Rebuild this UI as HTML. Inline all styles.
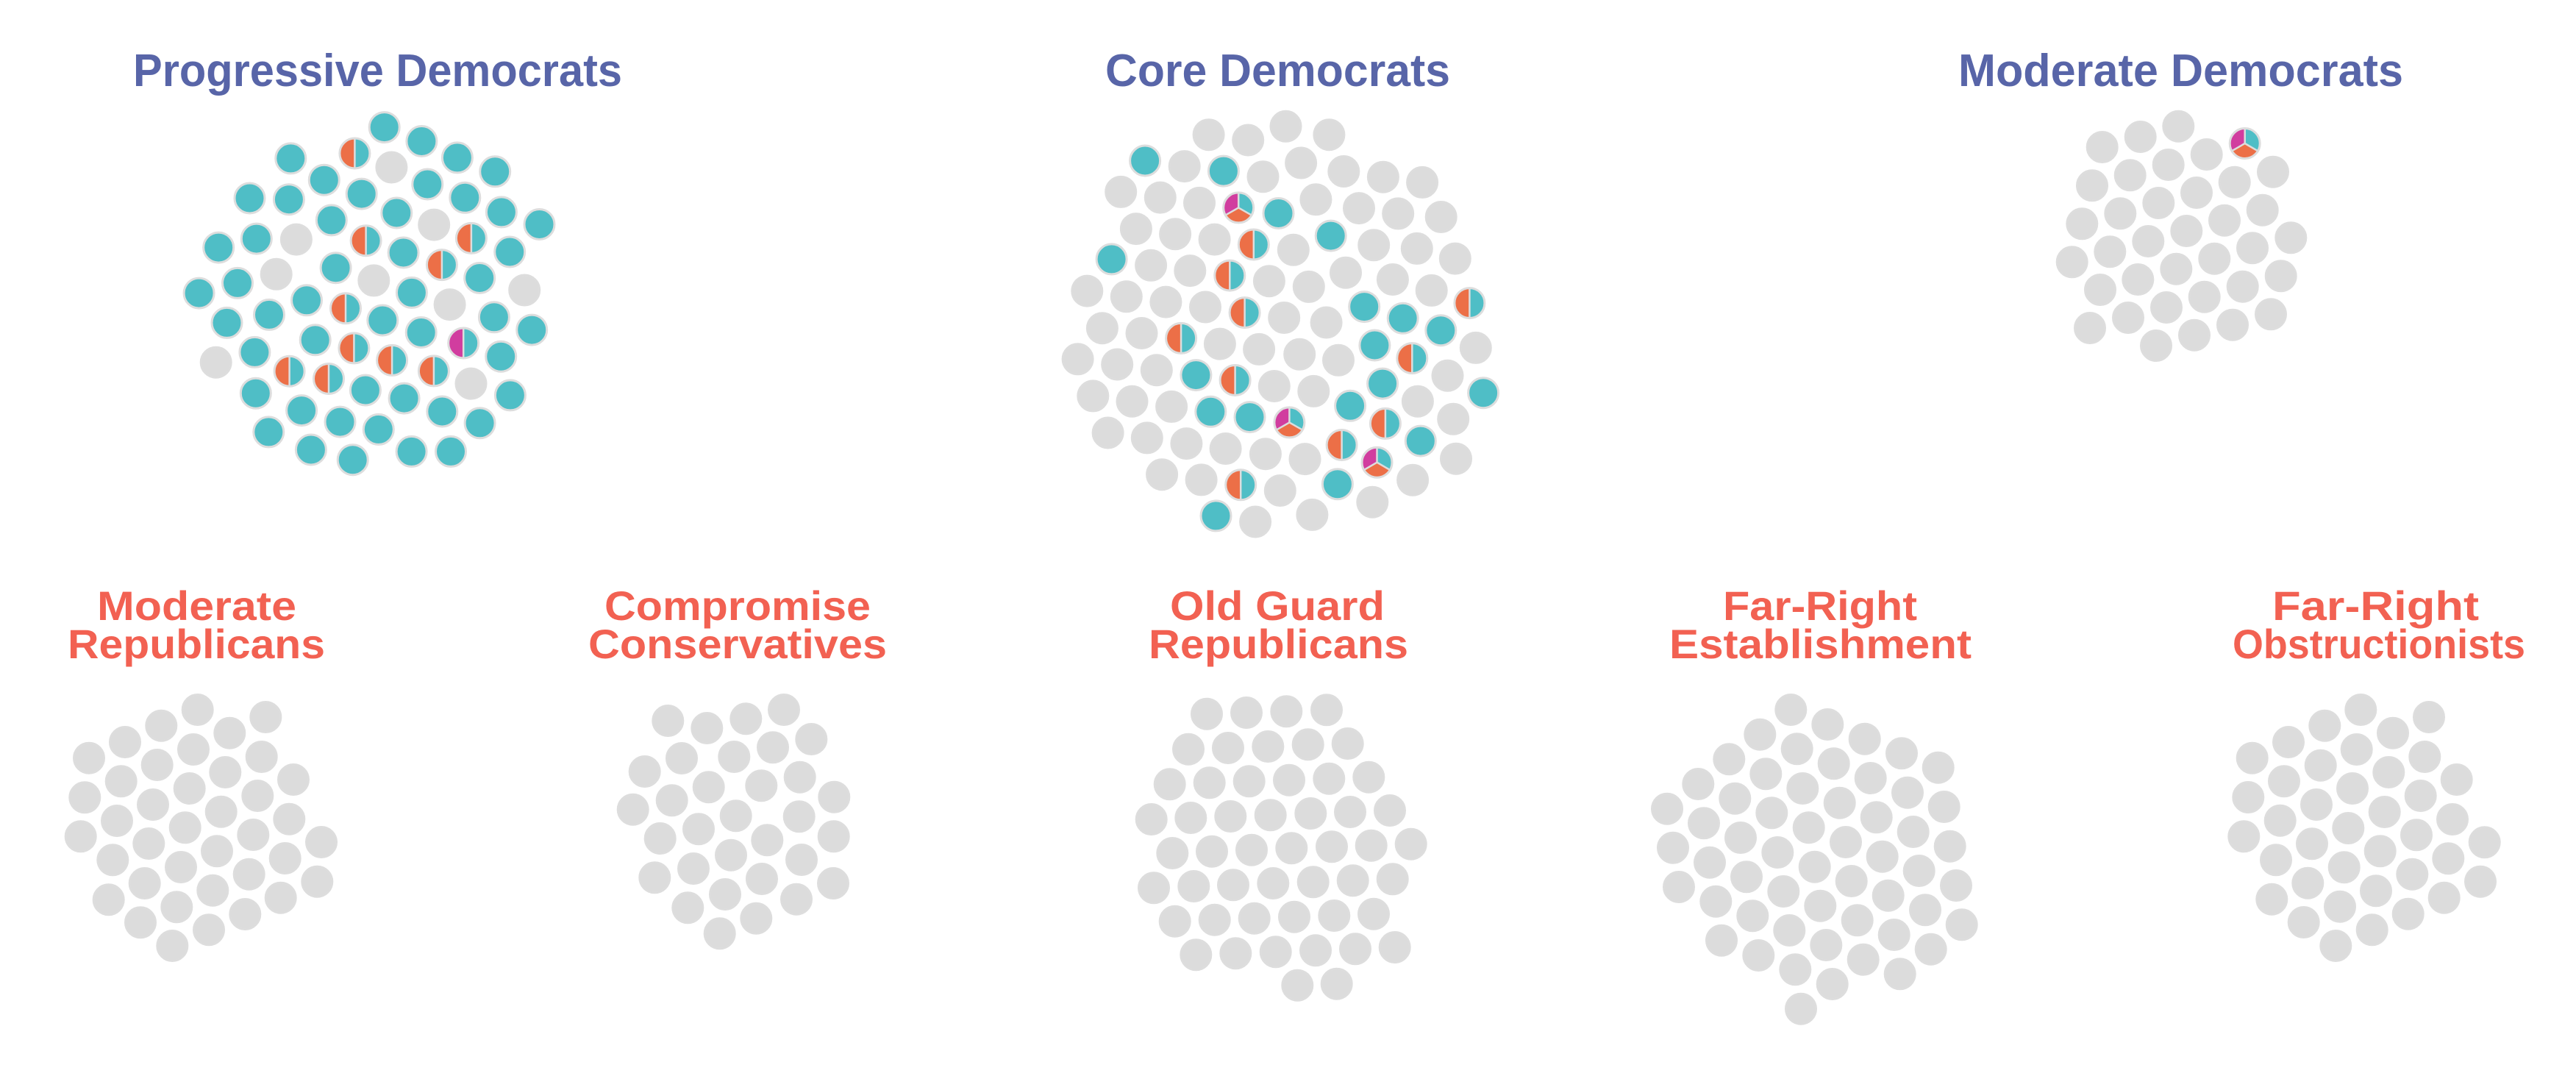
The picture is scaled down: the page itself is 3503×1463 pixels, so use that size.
<!DOCTYPE html>
<html><head><meta charset="utf-8">
<style>
html,body{margin:0;padding:0;background:#fff;}
svg{display:block;}
text{font-family:"Liberation Sans",sans-serif;font-weight:bold;}
</style></head>
<body>
<svg id="s" width="3503" height="1463" viewBox="0 0 3503 1463" xmlns="http://www.w3.org/2000/svg">
<g fill="#5865a8" font-size="62">
<text x="181" y="117" textLength="665" lengthAdjust="spacingAndGlyphs">Progressive Democrats</text>
<text x="1503" y="117" textLength="469" lengthAdjust="spacingAndGlyphs">Core Democrats</text>
<text x="2663" y="117" textLength="605" lengthAdjust="spacingAndGlyphs">Moderate Democrats</text>
</g>
<g fill="#f26152" font-size="56">
<text x="132" y="843" textLength="271" lengthAdjust="spacingAndGlyphs">Moderate</text>
<text x="92" y="895" textLength="350" lengthAdjust="spacingAndGlyphs">Republicans</text>
<text x="822" y="843" textLength="362" lengthAdjust="spacingAndGlyphs">Compromise</text>
<text x="800" y="895" textLength="406" lengthAdjust="spacingAndGlyphs">Conservatives</text>
<text x="1591" y="843" textLength="292" lengthAdjust="spacingAndGlyphs">Old Guard</text>
<text x="1562" y="895" textLength="353" lengthAdjust="spacingAndGlyphs">Republicans</text>
<text x="2343" y="843" textLength="264" lengthAdjust="spacingAndGlyphs">Far-Right</text>
<text x="2270" y="895" textLength="411" lengthAdjust="spacingAndGlyphs">Establishment</text>
<text x="3090" y="843" textLength="281" lengthAdjust="spacingAndGlyphs">Far-Right</text>
<text x="3036" y="895" textLength="398" lengthAdjust="spacingAndGlyphs">Obstructionists</text>
</g>
<g id="c"></g>
</svg>
<script>
var T="#4fbec6",O="#ec6f47",M="#d13d9f",G="#dcdcdc",S="#dddddd";
var R=20.5;
var out=[];
function pt(cx,cy,a){return (cx+R*Math.cos(a)).toFixed(1)+","+(cy+R*Math.sin(a)).toFixed(1);}
function sector(cx,cy,a1,a2,col){
  return '<path d="M'+cx.toFixed(1)+','+cy.toFixed(1)+' L'+pt(cx,cy,a1)+' A'+R+' '+R+' 0 0 1 '+pt(cx,cy,a2)+' Z" fill="'+col+'"/>';
}
function circ(cx,cy,t){
  var s='';
  if(t=='T'||t=='G'){
    s+='<circle cx="'+cx.toFixed(1)+'" cy="'+cy.toFixed(1)+'" r="'+R+'" fill="'+(t=='T'?T:G)+'" stroke="'+S+'" stroke-width="3"/>';
  } else if(t=='O'||t=='M'){
    var L=(t=='O'?O:M);
    s+=sector(cx,cy,Math.PI/2,Math.PI*1.5,L);
    s+=sector(cx,cy,-Math.PI/2,Math.PI/2,T);
    s+='<line x1="'+cx.toFixed(1)+'" y1="'+(cy-R).toFixed(1)+'" x2="'+cx.toFixed(1)+'" y2="'+(cy+R).toFixed(1)+'" stroke="'+S+'" stroke-width="2.5"/>';
    s+='<circle cx="'+cx.toFixed(1)+'" cy="'+cy.toFixed(1)+'" r="'+R+'" fill="none" stroke="'+S+'" stroke-width="3"/>';
  } else if(t=='P'){
    var d=Math.PI/180;
    s+=sector(cx,cy,-90*d,30*d,T);
    s+=sector(cx,cy,30*d,150*d,O);
    s+=sector(cx,cy,150*d,270*d,M);
    [-90,30,150].forEach(function(a){
      s+='<line x1="'+cx.toFixed(1)+'" y1="'+cy.toFixed(1)+'" x2="'+(cx+R*Math.cos(a*d)).toFixed(1)+'" y2="'+(cy+R*Math.sin(a*d)).toFixed(1)+'" stroke="'+S+'" stroke-width="2.5"/>';
    });
    s+='<circle cx="'+cx.toFixed(1)+'" cy="'+cy.toFixed(1)+'" r="'+R+'" fill="none" stroke="'+S+'" stroke-width="3"/>';
  }
  return s;
}
function cluster(ox,oy,f,str){
  str.trim().split(/\s+/).forEach(function(p){
    var a=p.split(',');
    var t=a[2]||'G';
    out.push(circ(ox+(+a[0])*f, oy+(+a[1])*f, t));
  });
}
cluster(230,130,0.3444,
"850,125,T 997,180,T 733,228,O 878,283,G 480,248,T 1138,245,T 1287,300,T 612,333,T 1020,350,T 318,405,T 473,410,T 760,388,T 1168,403,T 898,463,T 1312,460,T 1462,508,T 641,492,T 1046,510,G 195,600,T 345,565,T 502,568,G 777,573,O 1193,563,O 925,620,T 1345,617,T 1077,668,O 423,705,G 658,680,T 808,730,G 270,740,T 118,780,T 1226,720,T 1403,768,G 958,778,T 543,808,T 395,865,T 697,840,O 1108,825,G 228,897,T 843,887,T 1283,875,T 1432,925,T 995,935,T 577,965,T 730,997,O 1162,977,M 338,1013,T 185,1053,G 880,1045,O 1310,1030,T 475,1088,O 630,1118,O 1045,1087,O 1192,1137,G 342,1175,T 775,1163,T 928,1195,T 1347,1183,T 523,1243,T 1078,1247,T 675,1288,T 1227,1293,T 393,1328,T 827,1318,T 560,1398,T 957,1405,T 1112,1405,T 725,1438,T");
cluster(1440,140,0.3827,
"532,113,G 672,132,G 806,83,G 960,113,G 306,205,T 446,225,G 585,242,T 725,262,G 860,213,G 1012,243,G 1152,263,G 1291,282,G 220,316,G 360,336,G 499,355,G 638,372,P 780,392,T 913,343,G 1066,374,G 1205,393,G 1358,405,G 274,447,G 413,466,G 553,485,G 692,503,O 833,522,G 966,472,T 1119,505,G 1272,517,G 1408,553,G 187,555,T 327,577,G 466,596,G 607,613,O 747,633,G 888,653,G 1019,603,G 1186,627,G 1324,666,G 1459,711,O 100,668,G 240,688,G 380,707,G 520,725,G 660,745,O 800,763,G 950,780,G 1085,724,T 1222,765,T 1357,808,T 154,800,G 294,818,G 434,836,O 572,856,G 711,875,G 855,893,G 993,914,G 1122,861,T 1255,907,O 1481,870,G 67,910,G 207,929,G 347,949,G 487,967,T 626,985,O 765,1006,G 905,1024,G 1150,997,T 1381,969,G 1508,1030,T 121,1041,G 260,1060,G 400,1079,G 539,1097,T 678,1116,T 819,1135,P 1035,1076,T 1275,1060,G 1160,1139,O 1401,1123,G 174,1172,G 313,1190,G 453,1210,G 592,1228,G 734,1247,G 874,1265,G 1005,1215,O 1285,1201,T 1411,1264,G 1130,1277,P 366,1320,G 506,1339,G 646,1357,O 786,1377,G 990,1354,T 1257,1340,G 1114,1418,G 558,1467,T 698,1488,G 900,1463,G");
cluster(2780,140,1/3,
"547,95 392,138 236,180 662,210 818,165,P 506,252 350,295 195,337 933,281 776,323 621,366 466,408 310,451 154,493 890,437 735,479 580,522 424,564 268,607 113,649 1006,550 849,592 694,635 538,677 382,720 228,762 965,706 809,749 653,791 498,834 342,876 186,918 924,862 768,905 612,947 456,990");
cluster(80,930,1/3,
"566,105 844,135 418,170 697,200 270,237 549,267 827,297 123,302 401,330 679,360 957,390 254,397 533,426 811,456 106,463 384,492 662,521 940,551 237,558 515,586 793,615 89,622 1071,645 367,651 645,682 923,711 220,718 498,747 776,776 350,813 628,842 1054,806 203,880 905,872 481,910 760,939 333,973 612,1003 463,1068");
cluster(820,930,1/3,
"738,105 265,150 424,180 583,142 850,225 321,303 535,297 693,259 170,357 431,421 646,415 803,380 281,475 943,461 122,512 542,538 800,541 390,592 233,630 670,637 941,622 522,698 810,717 369,753 211,790 648,795 939,813 498,858 789,878 346,913 625,956 476,1018");
cluster(1530,930,1/3,
"333,122 495,117 658,112 822,106 258,266 420,261 583,255 746,247 908,243 182,409 344,403 506,397 669,392 832,386 994,380 107,552 268,546 430,540 593,535 757,528 918,522 1080,516 193,690 354,683 516,677 679,670 843,664 1004,659 1166,653 117,832 280,825 441,820 604,813 767,808 929,802 1091,796 203,968 365,962 527,956 690,950 853,945 1014,938 289,1105 451,1099 614,1093 777,1087 939,1081 1100,1074 703,1229 863,1223");
cluster(2230,930,1/3,
"616,105 766,165 917,224 1068,283 1217,341 490,206 641,265 791,325 941,384 1092,443 1241,501 364,307 514,367 664,426 815,485 965,544 1115,603 1265,662 238,408 388,467 538,526 689,586 840,645 989,704 1139,762 1290,822 111,509 261,568 411,627 562,687 713,746 863,804 1013,863 1164,922 1313,982 135,668 285,728 435,787 586,846 736,905 887,964 1037,1023 1187,1082 159,828 310,887 460,946 610,1005 760,1065 911,1124 1061,1183 333,1046 484,1107 634,1165 785,1224 657,1325");
cluster(3020,930,1/3,
"571,105 849,135 424,170 702,200 276,237 554,267 832,297 128,302 407,332 685,360 962,390 258,397 537,426 815,456 112,462 390,492 668,522 945,552 242,557 520,588 798,616 94,622 1076,646 372,652 650,682 928,712 225,718 503,748 781,776 355,812 633,844 1059,806 208,878 911,872 486,908 764,938 338,972 617,1003 469,1068");
document.getElementById('c').innerHTML=out.join('');
</script>
</body></html>
